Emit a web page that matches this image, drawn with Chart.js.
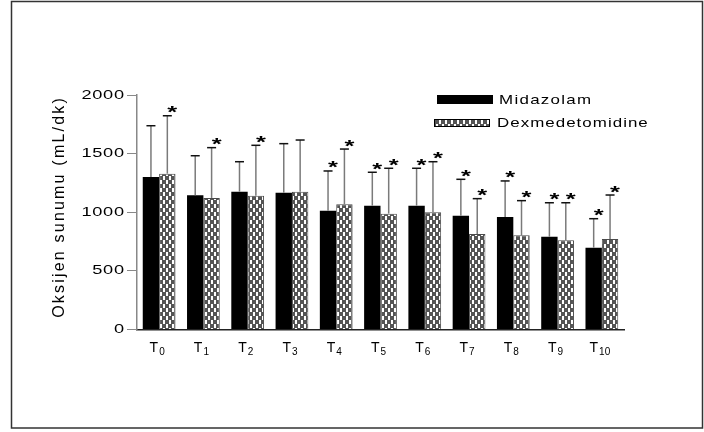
<!DOCTYPE html>
<html>
<head>
<meta charset="utf-8">
<script src="https://cdn.jsdelivr.net/npm/chart.js@4.4.0/dist/chart.umd.min.js"></script>
<style>
  html, body { margin: 0; padding: 0; background: #fff; }
</style>
</head>
<body>
<canvas id="chart" width="704" height="432"></canvas>
<script>
// -------------------- DATA --------------------
const timePoints = ["T0", "T1", "T2", "T3", "T4", "T5", "T6", "T7", "T8", "T9", "T10"];
const midazolamMean = [1301, 1145, 1175, 1167, 1013, 1056, 1056, 971, 960, 791, 698];
const midazolamSD   = [437, 337, 256, 418, 339, 285, 319, 310, 307, 290, 247];
const dexMean = [1329, 1122, 1141, 1175, 1068, 988, 1000, 815, 803, 761, 772];
const dexSD   = [494, 429, 430, 441, 471, 387, 431, 301, 296, 320, 375];
const midazolamStar = [0, 0, 0, 0, 1, 1, 1, 1, 1, 1, 1];
const dexStar       = [1, 1, 1, 0, 1, 1, 1, 1, 1, 1, 1];
const yTicks = [0, 500, 1000, 1500, 2000];
const seriesNames = ["Midazolam", "Dexmedetomidine"];
const yTitle = "Oksijen sunumu (mL/dk)";

// -------------------- HELPERS --------------------
function makePattern() {
  const c = document.createElement("canvas");
  c.width = 6; c.height = 8;
  const g = c.getContext("2d");
  g.fillStyle = "#555";
  g.fillRect(0, 0, 6, 8);
  g.fillStyle = "#ffffff";
  g.fillRect(1, 0, 2, 4);
  g.fillRect(4, 4, 2, 4);
  return document.getElementById("chart").getContext("2d").createPattern(c, "repeat");
}
const dexPattern = makePattern();

// text with horizontal stretch + letter spacing (the original figure is wide)
function drawText(ctx, text, x, y, o) {
  ctx.save();
  ctx.font = o.font;
  ctx.letterSpacing = (o.ls || 0) + "px";
  ctx.textBaseline = o.baseline || "alphabetic";
  ctx.textAlign = "left";
  ctx.fillStyle = o.color || "#000";
  const sx = o.sx || 1;
  const w = (ctx.measureText(text).width - (o.ls || 0)) * sx;
  let x0 = x;
  if (o.align === "right") x0 = x - w;
  else if (o.align === "center") x0 = x - w / 2;
  ctx.translate(x0, y);
  ctx.scale(sx, 1);
  ctx.fillText(text, 0, 0);
  ctx.restore();
}

function drawStar(ctx, cx, cy) {
  ctx.save();
  ctx.font = "bold 17px 'Liberation Sans', Arial, sans-serif";
  const m = ctx.measureText("*");
  const base = cy + (m.actualBoundingBoxAscent - m.actualBoundingBoxDescent) / 2;
  ctx.translate(cx, base);
  ctx.scale(1.5, 1);
  ctx.textAlign = "center";
  ctx.fillStyle = "#000";
  ctx.fillText("*", 0, 0);
  ctx.restore();
}

// -------------------- PLUGINS --------------------
const errorBars = {
  id: "errorBars",
  afterDatasetsDraw(chart) {
    const ctx = chart.ctx;
    const y = chart.scales.y;
    const sds = [midazolamSD, dexSD];
    const means = [midazolamMean, dexMean];
    const stars = [midazolamStar, dexStar];
    chart.data.datasets.forEach((ds, di) => {
      chart.getDatasetMeta(di).data.forEach((bar, i) => {
        const top = y.getPixelForValue(means[di][i] + sds[di][i]);
        ctx.save();
        ctx.lineWidth = 1.5;
        ctx.strokeStyle = "#7a7a7a";
        ctx.beginPath();
        ctx.moveTo(bar.x, bar.y);
        ctx.lineTo(bar.x, top);
        ctx.stroke();
        ctx.strokeStyle = "#111";
        ctx.beginPath();
        ctx.moveTo(bar.x - 4.5, top);
        ctx.lineTo(bar.x + 4.5, top);
        ctx.stroke();
        ctx.restore();
        if (stars[di][i]) drawStar(ctx, bar.x + 5, top - 6);
      });
    });
  }
};

const decorations = {
  id: "decorations",
  afterDraw(chart) {
    const ctx = chart.ctx;
    const x = chart.scales.x, y = chart.scales.y;
    const area = chart.chartArea;

    // y tick labels
    yTicks.forEach(v => {
      drawText(ctx, String(v), area.left - 13, y.getPixelForValue(v), {
        font: "13px 'Liberation Sans', Arial, sans-serif", sx: 1.4, ls: 0.5,
        align: "right", baseline: "middle"
      });
    });

    // x labels with subscripts
    timePoints.forEach((lab, i) => {
      const cx = x.getPixelForValue(i) - 2;
      const main = lab.charAt(0), sub = lab.slice(1);
      ctx.save();
      ctx.font = "14px 'Liberation Sans', Arial, sans-serif";
      const w1 = ctx.measureText(main).width;
      ctx.font = "10px 'Liberation Sans', Arial, sans-serif";
      const w2 = ctx.measureText(sub).width;
      const x0 = cx - (w1 + w2 + 1) / 2;
      ctx.fillStyle = "#000";
      ctx.textAlign = "left";
      ctx.font = "14px 'Liberation Sans', Arial, sans-serif";
      ctx.fillText(main, x0, 351.5);
      ctx.font = "10px 'Liberation Sans', Arial, sans-serif";
      ctx.fillText(sub, x0 + w1 + 1, 354.5);
      ctx.restore();
    });

    // y title
    ctx.save();
    ctx.translate(64, 208);
    ctx.rotate(-Math.PI / 2);
    drawText(ctx, yTitle, 0, 0, {
      font: "16px 'Liberation Sans', Arial, sans-serif", ls: 2.2, align: "center"
    });
    ctx.restore();

    // legend
    ctx.save();
    ctx.fillStyle = "#000";
    ctx.fillRect(437, 95, 56, 9);
    ctx.fillStyle = dexPattern;
    ctx.fillRect(434, 119, 56, 8);
    ctx.strokeStyle = "#000";
    ctx.lineWidth = 1;
    ctx.strokeRect(434.5, 119.5, 55, 7);
    ctx.restore();
    drawText(ctx, seriesNames[0], 499, 104, {
      font: "13px 'Liberation Sans', Arial, sans-serif", sx: 1.3, ls: 1.0
    });
    drawText(ctx, seriesNames[1], 497, 127, {
      font: "13px 'Liberation Sans', Arial, sans-serif", sx: 1.3, ls: 0.8
    });

    // outer frame
    ctx.save();
    ctx.strokeStyle = "#333";
    ctx.lineWidth = 1.5;
    ctx.strokeRect(11.5, 1.5, 691, 426.5);
    ctx.restore();
  }
};

// -------------------- CHART --------------------
const ctx = document.getElementById("chart").getContext("2d");
const chart = new Chart(ctx, {
  type: "bar",
  data: {
    labels: timePoints,
    datasets: [{
      label: seriesNames[0],
      data: midazolamMean,
      backgroundColor: "#000",
      borderWidth: 0,
      categoryPercentage: 0.74,
      barPercentage: 1
    }, {
      label: seriesNames[1],
      data: dexMean,
      backgroundColor: dexPattern,
      borderColor: "#4a4a4a",
      borderWidth: 1,
      categoryPercentage: 0.74,
      barPercentage: 1
    }]
  },
  options: {
    responsive: false,
    animation: false,
    layout: { padding: { left: 0, right: 80, top: 95, bottom: 0 } },
    plugins: {
      legend: { display: false },
      tooltip: { enabled: false }
    },
    scales: {
      x: {
        grid: { display: false },
        border: { display: true, color: "#222", width: 1.5 },
        ticks: { display: false },
        afterFit: s => { s.height = 102.5; }
      },
      y: {
        min: 0,
        max: 2000,
        ticks: { stepSize: 500, color: "rgba(0,0,0,0)" },
        grid: { drawOnChartArea: false, drawTicks: true, tickLength: 10, color: "#888", tickColor: "#888" },
        border: { display: true, color: "#888", width: 1.5 },
        afterFit: s => { s.width = 137; }
      }
    }
  },
  plugins: [errorBars, decorations]
});
</script>
</body>
</html>
